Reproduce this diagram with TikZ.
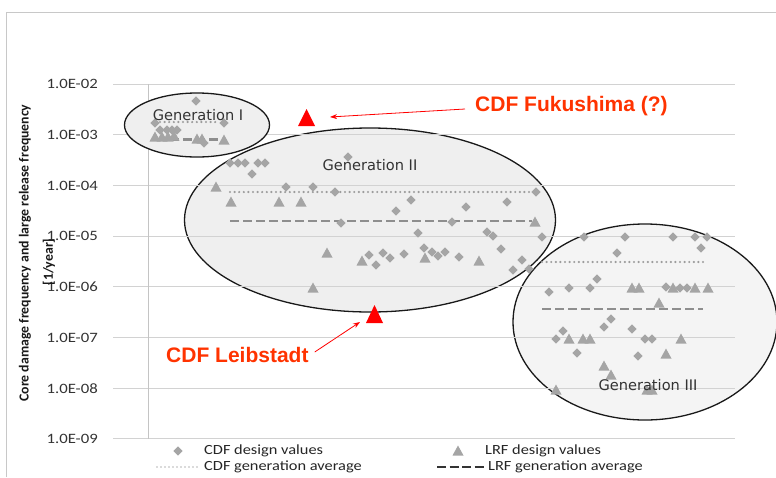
\documentclass[tikz,border=0pt]{standalone}
\usepackage{fontspec}
\setmainfont{Carlito}
\newfontfamily\axisfont[FakeStretch=1.17]{Carlito}
\newfontfamily\genfont{DejaVu Sans}
\newfontfamily\callfont{Liberation Sans}
\usetikzlibrary{arrows.meta}

\definecolor{gridgray}{HTML}{D2D2D2}
\definecolor{axisgray}{HTML}{C4C4C4}
\definecolor{framegray}{HTML}{C8C8C8}
\definecolor{markgray}{HTML}{A5A5A5}
\definecolor{avggray}{HTML}{8E8E8E}
\definecolor{dotgray}{HTML}{9C9C9C}
\definecolor{fillone}{HTML}{EFEFEF}
\definecolor{filltwo}{HTML}{EFEFEF}
\definecolor{fillthree}{HTML}{F4F4F4}
\definecolor{labelgray}{HTML}{333333}
\definecolor{callred}{HTML}{FF3300}

\tikzset{
  cdf/.pic={\fill[markgray] (0,-4.7) -- (4.7,0) -- (0,4.7) -- (-4.7,0) -- cycle;},
  lrf/.pic={\fill[markgray] (0,-5.5) -- (5.5,4.5) -- (-5.5,4.5) -- cycle;},
  gridline/.style={gridgray, line width=1pt},
  genshape/.style={draw=black!90, line width=1.3pt},
  cdfavg/.style={dotgray, line width=2.4pt, line cap=round, dash pattern=on 0pt off 4.6pt},
  lrfavg/.style={avggray, line width=2.3pt, dash pattern=on 9pt off 4pt},
  ticklabel/.style={anchor=east, inner sep=0pt, text=labelgray, font=\axisfont\fontsize{14.3pt}{16pt}\selectfont},
  legendtext/.style={anchor=west, inner sep=0pt, text=black!85, font=\axisfont\fontsize{14pt}{16pt}\selectfont},
  genlabel/.style={inner sep=0pt, text=labelgray, font=\genfont\fontsize{14.6pt}{17pt}\selectfont},
  callout/.style={inner sep=0pt, text=callred, font=\callfont\bfseries\fontsize{21pt}{24pt}\selectfont},
  redarrow/.style={red, line width=0.8pt, -{Stealth[length=7pt,width=5pt]}},
  axistitle/.style={rotate=90, inner sep=0pt, text=black!90, font=\bfseries\fontsize{13.8pt}{16pt}\selectfont},
}

\begin{document}
\begin{tikzpicture}[x=1pt, y=-1pt]
\useasboundingbox (0,0) rectangle (776,477);
\fill[white] (0,0) rectangle (776,477);

% chart frame
\draw[framegray, line width=1pt] (6,477) -- (6,12.3) -- (776,12.3);

% Generation II and III envelopes (fills first, then outlines)
\fill[filltwo] (370,220) ellipse [x radius=185.5, y radius=92];
\fill[fillthree] (645,322) ellipse [x radius=132, y radius=98];
\draw[genshape] (370,220) ellipse [x radius=185.5, y radius=92];
\draw[genshape] (645,322) ellipse [x radius=132, y radius=98];

% horizontal grid lines and tick labels
\foreach \e [count=\i from 0] in {02,03,04,05,06,07,08,09}{
  \pgfmathsetmacro{\yy}{84.3+\i*50.67}
  \draw[gridline] (113,\yy) -- (735,\yy);
  \node[ticklabel] (tick\e) at (98,\yy) {1.0E-\e};
}
% vertical axis
\draw[axisgray, line width=1pt] (148,84.3) -- (148,439);

% Generation I envelope
\fill[fillone] (197,125) ellipse [x radius=72.5, y radius=32];
\draw[genshape] (197,125) ellipse [x radius=72.5, y radius=32];

% axis title
\node[axistitle] (ytitle) at (25,253) {Core damage frequency and large release frequency};
\node[axistitle] (yunit) at (49,262) {[1/year]};

% generation averages
\draw[cdfavg] (160,122) -- (217,122);
\draw[lrfavg] (157,139.5) -- (220,139.5);
\draw[cdfavg] (230,192) -- (534,192);
\draw[lrfavg] (230,221) -- (532,221);
\draw[cdfavg] (542,262) -- (703,262);
\draw[lrfavg] (542,309) -- (703,309);

% CDF design values
\foreach \x/\y in {196/101,155/123,224/123,160/130,167/130,172/130,177/130,204/143,
  230/163,238/163,245/163,258/163,265/163,252/174,348/157,286/187,313/187,335/192,
  341/223,396/211,411/200,466/207,507/202,536/192,452/222,418/233,487/232,493/236,
  542/237,369/255,376/265,383/253,390/258,404/254,424/248,432/252,438/256,445/252,
  459/257,501/249,522/260,513/270,529/269,
  549/292,569/288,590/288,597/279,584/237,617/253,625/237,673/237,695/237,707/237,
  701/248,666/287,680/288,687/288,611/319,604/327,563/331,556/339,632/329,645/339,
  652/339,577/353,638/356}
  \pic at (\x,\y) {cdf};

% LRF design values
\foreach \x/\y in {155/137,162/137,168/137,174/136,197/139,202/139,224/140,
  216/187,231/202,279/202,301/202,327/253,362/261,425/258,479/261,535/222,313/288,
  632/288,639/288,673/288,695/288,708/288,659/303,569/339,583/339,590/339,681/339,
  666/354,604/366,611/375,556/390,647/390,652/390}
  \pic at (\x,\y) {lrf};

% generation labels
\node[genlabel] (genI) at (198,115) {Generation I};
\node[genlabel] (genII) at (370,165) {Generation II};
\node[genlabel] (genIII) at (648,385) {Generation III};

% highlighted plants
\fill[red] (306.5,109) -- (315,126) -- (298,126) -- cycle;
\fill[red] (374.5,305) -- (383,323) -- (366,323) -- cycle;
\coordinate (fukTip) at (330,117);
\coordinate (leiTip) at (360,322);
\node[callout, anchor=west] (fuk) at (475,106) {CDF Fukushima (?)};
\node[callout, anchor=west] (lei) at (166,355) {CDF Leibstadt};
\draw[redarrow] (fuk.west) ++(-10,3) -- (fukTip);
\draw[redarrow] (lei.east) ++(6,-3) -- (leiTip);

% legend
\pic at (178,451) {cdf};
\node[legendtext] (legA) at (204,451) {CDF design values};
\pic at (458,451) {lrf};
\node[legendtext] (legB) at (485,451) {LRF design values};
\draw[black!60, line width=1.4pt, line cap=round, dash pattern=on 0pt off 4pt] (157,467) -- (198,467);
\node[legendtext] (legC) at (204,467) {CDF generation average};
\draw[black!80, line width=2.3pt, dash pattern=on 9pt off 3.5pt] (437,467) -- (487,467);
\node[legendtext] (legD) at (488,467) {LRF generation average};
\end{tikzpicture}
\end{document}
